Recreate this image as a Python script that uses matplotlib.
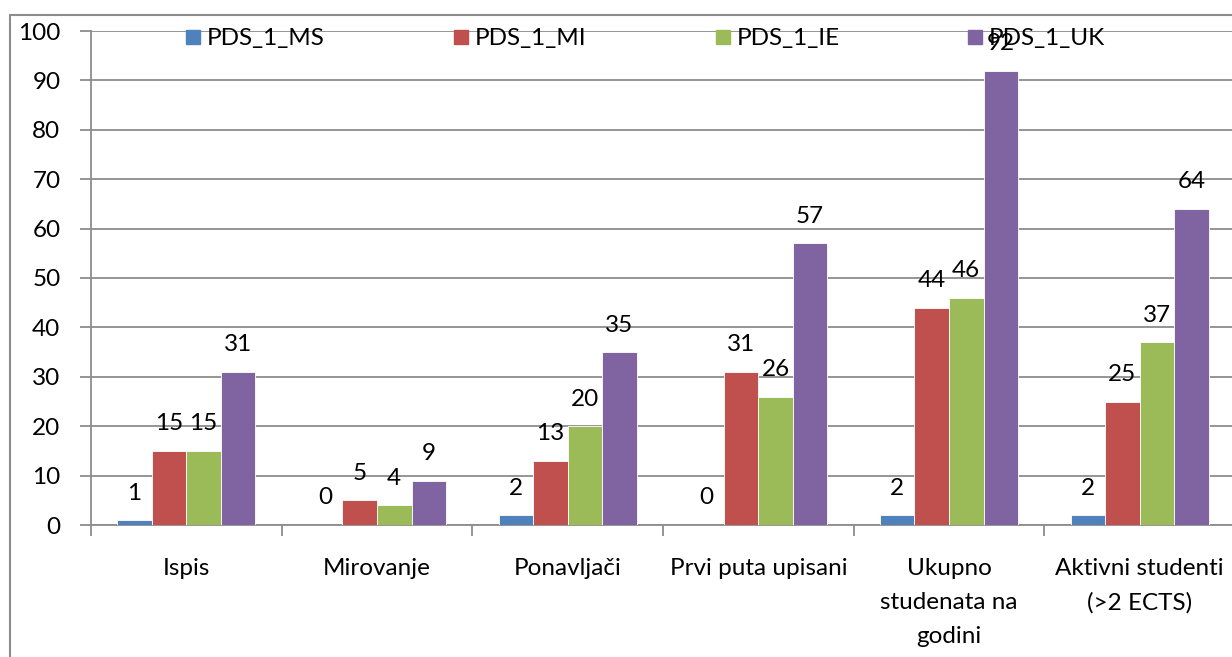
import numpy as np
import matplotlib.pyplot as plt
from matplotlib.patches import Rectangle

plt.rcParams['font.family'] = ['Lato', 'DejaVu Sans']

categories = ['Ispis', 'Mirovanje', 'Ponavljači', 'Prvi puta upisani',
              'Ukupno\nstudenata na\ngodini', 'Aktivni studenti\n(>2 ECTS)']
series = ['PDS_1_MS', 'PDS_1_MI', 'PDS_1_IE', 'PDS_1_UK']
ms = [1, 0, 2, 0, 2, 2]
mi = [15, 5, 13, 31, 44, 25]
ie = [15, 4, 20, 26, 46, 37]
uk = [31, 9, 35, 57, 92, 64]
values = [ms, mi, ie, uk]
colors = ['#4F81BD', '#C0504D', '#9BBB59', '#8064A2']

W, H = 1232, 657
fig = plt.figure(figsize=(W / 100, H / 100), dpi=100)
# plot area in pixels: left 91, right 1235 (runs past the edge), top 31, bottom 525
ax = fig.add_axes([91 / W, (H - 525) / H, (1235 - 91) / W, (525 - 31) / H])

# outer chart frame
fig.add_artist(Rectangle((10 / W, -0.1), 2, (H - 15) / H + 0.1, transform=fig.transFigure,
                         fill=False, edgecolor='#8c8c8c', lw=1.5, clip_on=False))

fs = 17.5
w = 0.181
x = np.arange(len(categories)) + 0.5
for k, (vals, c) in enumerate(zip(values, colors)):
    pos = x + (k - 1.5) * w
    ax.bar(pos, vals, width=w, color=c, edgecolor='white', linewidth=0.6, zorder=3)
    for px, v in zip(pos, vals):
        ax.annotate(str(v), (px, v), xytext=(0, 27), textcoords='offset pixels',
                    ha='center', va='center', fontsize=fs, zorder=5)

ax.set_xlim(0, 6)
ax.set_ylim(0, 100)
ax.set_yticks(np.arange(0, 101, 10))
ax.yaxis.grid(True, color='#8c8c8c', lw=1.3, zorder=0)
ax.tick_params(axis='y', length=8, width=1.3, color='#8c8c8c', labelsize=fs, pad=14)

ax.set_xticks(np.arange(0, 7))
ax.set_xticklabels([])
ax.set_xticks(x, minor=True)
ax.set_xticklabels(categories, minor=True, fontsize=fs, linespacing=1.75)
ax.tick_params(axis='x', which='major', length=8, width=1.3, color='#8c8c8c')
ax.tick_params(axis='x', which='minor', length=0, pad=24)

for s in ['top', 'right']:
    ax.spines[s].set_visible(False)
for s in ['left', 'bottom']:
    ax.spines[s].set_color('#8c8c8c')
    ax.spines[s].set_linewidth(1.3)

# legend across the top
leg_x = [186, 454, 716, 968]
for name, c, lx in zip(series, colors, leg_x):
    fig.add_artist(Rectangle((lx / W, (H - 44) / H), 14 / W, 14 / H,
                             transform=fig.transFigure, color=c))
    fig.text((lx + 21) / W, (H - 38) / H, name, ha='left', va='center', fontsize=fs)

fig.savefig('out.png', dpi=100)
